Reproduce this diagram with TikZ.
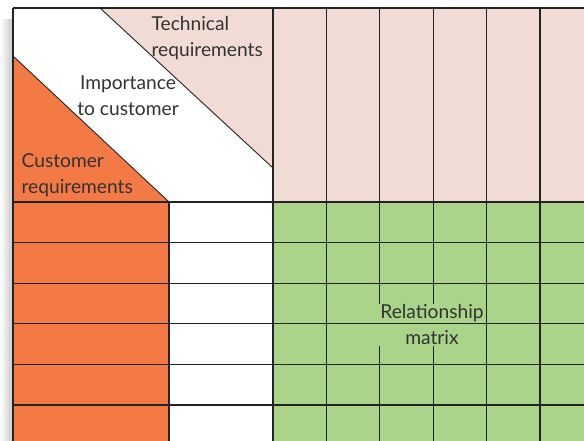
\documentclass[tikz,border=0pt]{standalone}
\usepackage{fontspec}
\setmainfont{Lato}
\usetikzlibrary{positioning}

\definecolor{custorange}{RGB}{244,122,69}
\definecolor{techpink}{RGB}{240,220,212}
\definecolor{relgreen}{RGB}{170,212,137}
\definecolor{gridline}{RGB}{35,35,35}
\definecolor{labelgray}{RGB}{50,50,50}

\begin{document}
\begin{tikzpicture}[x=1pt, y=-1pt, line width=1.2pt,
    gridline/.style={draw=gridline},
    label/.style={inner sep=0pt, text=labelgray, font=\fontsize{19.2}{26}\selectfont}]
        \useasboundingbox (0,0) rectangle (584,441);
        \clip (0,0) rectangle (584,441);

        % Shadow on the left
        \shade[left color=white, right color=black!22] (0,20) rectangle (13,441);

        % Areas
        \fill[white] (13,8) rectangle (273,441);
        \fill[techpink] (100,8) -- (273,8) -- (273,168) -- cycle;
        \fill[techpink] (273,8) rectangle (584,202);
        \fill[custorange] (13,56) -- (169,202) -- (13,202) -- cycle;
        \fill[custorange] (13,202) rectangle (169,441);
        \fill[relgreen] (273,202) rectangle (584,441);

        % Diagonals
        \draw[gridline, line width=0.9pt] (100,8) -- (273,168);
        \draw[gridline, line width=0.9pt] (13,56) -- (169,202);

        % Columns
        \draw[gridline] (13,8) -- (13,441);
        \draw[gridline] (169,202) -- (169,441);
        \foreach \k in {0,...,5}
            \draw[gridline] (273+\k*53.4,8) -- (273+\k*53.4,441);

        % Relationship matrix label
        \node[label, fill=relgreen, inner sep=1pt, align=center, anchor=north]
            (rel) at (432,303) {Relationship\\matrix};

        % Rows
        \draw[gridline] (13,8) -- (584,8);
        \foreach \k in {0,...,5}
            \draw[gridline] (13,202+\k*40.6) -- (584,202+\k*40.6);

        % Labels
        \node[label, align=left, anchor=north west] (tech) at (151,16)
            {Technical\\requirements};
        \node[label, align=center, anchor=north] (imp) at (128,75)
            {Importance\\to customer};
        \node[label, align=left, anchor=north west] (cust) at (21,153)
            {Customer\\requirements};
\end{tikzpicture}
\end{document}
